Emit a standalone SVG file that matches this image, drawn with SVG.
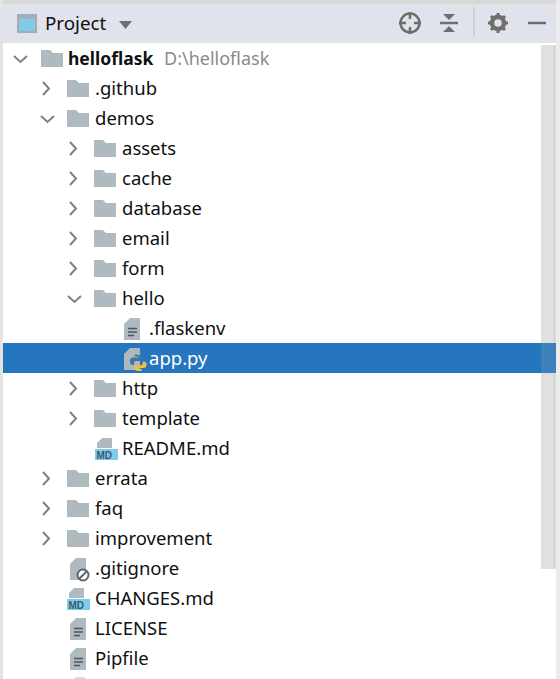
<svg xmlns="http://www.w3.org/2000/svg" width="560" height="679" viewBox="0 0 560 679">
<style>
text{font-family:"Noto Sans","Open Sans","Liberation Sans",sans-serif;font-size:18.500px;fill:#101010}
.ch{fill:none;stroke:#7f8084;stroke-width:2}
.ic{fill:#6e6e6e}
.ln{fill:none;stroke:#6e6e6e}
</style>
<defs>
<path id="folder" d="M0 0H9L12 3H22V17H0Z" fill="#afb9c0"/>
<path id="right" class="ch" d="M0 0L6 6.500L0 13"/>
<path id="down" class="ch" d="M0 0L6.500 6L13 0"/>
<path id="page" d="M6 0H16V22H0V6Z" fill="#afb9c0"/>
<g id="txtfile"><use href="#page"/><path d="M4 10.500H13M4 14H13M4 17.500H10" stroke="#4f5459" stroke-width="1.500"/></g>
<g id="md"><path d="M7 0H17V10H2V5Z" fill="#afb9c0"/><rect x="0" y="11" width="23" height="11" fill="#7ccbea"/><text x="1.500" y="20.500" style="font-size:10px;font-weight:700;fill:#3d5a6c;font-family:'Liberation Sans',sans-serif">MD</text></g>
</defs>
<rect width="560" height="679" fill="#fff"/>
<rect x="0" y="0" width="560" height="4" fill="#d8d8d8"/>
<rect x="0" y="0" width="3" height="679" fill="#e4e4e4"/>
<rect x="3" y="4" width="553" height="39" fill="#e0e3eb"/>
<rect x="556" y="0" width="4" height="679" fill="#ececec"/>
<rect x="541" y="45" width="15" height="524" fill="#e0e0e0"/>
<rect x="554" y="45" width="1" height="522" fill="#cccccc"/>
<g id="toolbar">
<rect x="17" y="14" width="20" height="19" fill="#a3adb5"/>
<rect x="19" y="19" width="16" height="12" fill="#7fcbe8"/>
<text x="45" y="30" style="font-size:18.800px">Project</text>
<path d="M119 21H132L125.500 29Z" fill="#6e6e6e"/>
<g class="ln" stroke-width="2.500"><circle cx="410" cy="23" r="9.500"/><path d="M410 12V19M410 27V34M399 23H406M414 23H421"/></g>
<path d="M440 23H458" stroke="#6e6e6e" stroke-width="2.500"/>
<path d="M443 14H455L449 20ZM443 32H455L449 26Z" class="ic"/>
<rect x="473" y="7" width="2" height="30" fill="#cfcfcf"/>
<circle cx="498" cy="23" r="6" fill="none" stroke="#6e6e6e" stroke-width="4.500"/>
<path d="M498 13V33M488 23H508M491 16L505 30M505 16L491 30" stroke="#6e6e6e" stroke-width="3" stroke-dasharray="3 14 3"/>
<path d="M528 23H546" stroke="#6e6e6e" stroke-width="2.500"/>
</g>
<rect x="3" y="343" width="553" height="30" fill="#2675bf"/>
<rect x="541" y="343" width="15" height="30" fill="#3f7fbb"/>
<g id="connectors">
<use href="#down" x="14" y="56"/>
<use href="#right" x="43" y="82"/>
<use href="#down" x="41" y="116"/>
<use href="#right" x="70" y="142"/>
<use href="#right" x="70" y="172"/>
<use href="#right" x="70" y="202"/>
<use href="#right" x="70" y="232"/>
<use href="#right" x="70" y="262"/>
<use href="#down" x="68" y="296"/>
<use href="#right" x="70" y="382"/>
<use href="#right" x="70" y="412"/>
<use href="#right" x="43" y="472"/>
<use href="#right" x="43" y="502"/>
<use href="#right" x="43" y="532"/>
</g>
<g id="helloflask"><use href="#folder" x="41" y="50"/><text x="68" y="65" style="font-weight:700;font-size:17.500px">helloflask</text><text x="164" y="65" style="fill:#8a8a8a;font-size:18px">D:\helloflask</text></g>
<g id="github"><use href="#folder" x="67" y="80"/><text x="95" y="95">.github</text></g>
<g id="demos"><use href="#folder" x="67" y="110"/><text x="95" y="125">demos</text></g>
<g id="assets"><use href="#folder" x="94" y="140"/><text x="122" y="155">assets</text></g>
<g id="cache"><use href="#folder" x="94" y="170"/><text x="122" y="185">cache</text></g>
<g id="database"><use href="#folder" x="94" y="200"/><text x="122" y="215">database</text></g>
<g id="email"><use href="#folder" x="94" y="230"/><text x="122" y="245">email</text></g>
<g id="form"><use href="#folder" x="94" y="260"/><text x="122" y="275">form</text></g>
<g id="hello"><use href="#folder" x="94" y="290"/><text x="122" y="305">hello</text></g>
<g id="flaskenv"><use href="#txtfile" x="124" y="318"/><text x="149" y="335">.flaskenv</text></g>
<g id="app"><use href="#page" x="124" y="348"/>
<path d="M137 355h2a3 3 0 0 1 3 3v3h-6a2 2 0 0 0 -2 2v2h-1a3 3 0 0 1 -3-3v-1.500a3 3 0 0 1 3-3h5.500v-1h-4v-.5a2 2 0 0 1 2.500-1.500z" fill="#3a78a8"/>
<path d="M143 361.500h.5a3 3 0 0 1 3 2v1.500a3 3 0 0 1 -3 3h-5v1h3.500v.5a2 2 0 0 1 -2.500 1.500h-2a3 3 0 0 1 -3-3v-2.500h6a2 2 0 0 0 2-2z" fill="#f2c037"/>
<text x="149" y="365" style="fill:#fff">app.py</text></g>
<g id="http"><use href="#folder" x="94" y="380"/><text x="122" y="395">http</text></g>
<g id="template"><use href="#folder" x="94" y="410"/><text x="122" y="425">template</text></g>
<g id="readme"><use href="#md" x="95" y="438"/><text x="122" y="455">README.md</text></g>
<g id="errata"><use href="#folder" x="67" y="470"/><text x="95" y="485">errata</text></g>
<g id="faq"><use href="#folder" x="67" y="500"/><text x="95" y="515">faq</text></g>
<g id="improvement"><use href="#folder" x="67" y="530"/><text x="95" y="545">improvement</text></g>
<g id="gitignore"><use href="#page" x="70" y="558"/><circle cx="83" cy="575" r="5.500" fill="#fff" stroke="#5f6468" stroke-width="2"/><path d="M79 579L87 571" stroke="#5f6468" stroke-width="2"/><text x="95" y="575">.gitignore</text></g>
<g id="changes"><use href="#md" x="67" y="588"/><text x="95" y="605">CHANGES.md</text></g>
<g id="license"><use href="#txtfile" x="70" y="618"/><text x="95" y="635">LICENSE</text></g>
<g id="pipfile"><use href="#txtfile" x="70" y="648"/><text x="95" y="665">Pipfile</text></g>
<path d="M75 679V677H85V679Z" fill="#d5d9dc"/>
</svg>
